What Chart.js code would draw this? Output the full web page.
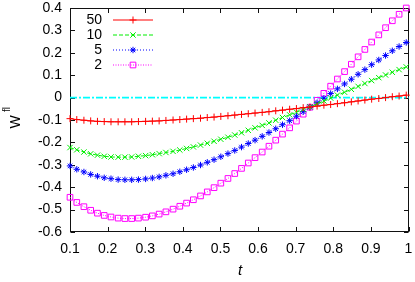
<!DOCTYPE html>
<html>
<head>
<meta charset="utf-8">
<script src="https://cdn.jsdelivr.net/npm/chart.js@4.4.1/dist/chart.umd.min.js"></script>
<style>
  html, body { margin: 0; padding: 0; background: #fff; }
  canvas { display: block; }
</style>
</head>
<body>
<canvas id="chart" width="415" height="282"></canvas>
<script>
// sample points along t
const tValues = [
  0.100, 0.118, 0.137, 0.155, 0.173, 0.191, 0.209, 0.228, 0.246, 0.264,
  0.282, 0.301, 0.319, 0.337, 0.355, 0.374, 0.392, 0.410, 0.428, 0.447,
  0.465, 0.483, 0.501, 0.520, 0.538, 0.556, 0.574, 0.592, 0.611, 0.629,
  0.647, 0.665, 0.684, 0.702, 0.720, 0.738, 0.757, 0.775, 0.793, 0.811,
  0.830, 0.848, 0.866, 0.884, 0.902, 0.921, 0.939, 0.957, 0.975, 0.994
];

// W^fl for each case
const w50 = [
  -0.094, -0.098, -0.101, -0.104, -0.106, -0.107, -0.108, -0.108, -0.108, -0.108,
  -0.107, -0.106, -0.105, -0.104, -0.102, -0.100, -0.098, -0.096, -0.094, -0.092,
  -0.089, -0.087, -0.084, -0.081, -0.078, -0.075, -0.072, -0.069, -0.066, -0.063,
  -0.059, -0.056, -0.052, -0.049, -0.045, -0.042, -0.038, -0.034, -0.031, -0.027,
  -0.023, -0.019, -0.015, -0.011, -0.007, -0.004, 0.000, 0.004, 0.007, 0.011
];
const w10 = [
  -0.223, -0.233, -0.243, -0.251, -0.257, -0.262, -0.265, -0.266, -0.266, -0.265,
  -0.262, -0.259, -0.255, -0.250, -0.245, -0.240, -0.234, -0.227, -0.220, -0.212,
  -0.204, -0.195, -0.186, -0.177, -0.167, -0.157, -0.146, -0.135, -0.124, -0.113,
  -0.101, -0.089, -0.077, -0.065, -0.053, -0.041, -0.028, -0.015, -0.002, 0.011,
  0.024, 0.037, 0.050, 0.063, 0.076, 0.089, 0.101, 0.113, 0.125, 0.137
];
const w5 = [
  -0.305, -0.320, -0.332, -0.343, -0.351, -0.358, -0.362, -0.366, -0.367, -0.367,
  -0.366, -0.363, -0.359, -0.354, -0.347, -0.340, -0.331, -0.322, -0.312, -0.301,
  -0.289, -0.277, -0.264, -0.250, -0.236, -0.221, -0.205, -0.190, -0.173, -0.156,
  -0.139, -0.121, -0.103, -0.083, -0.063, -0.043, -0.023, -0.003, 0.018, 0.039,
  0.061, 0.082, 0.104, 0.125, 0.147, 0.168, 0.188, 0.209, 0.228, 0.246
];
const w2 = [
  -0.445, -0.468, -0.487, -0.503, -0.516, -0.526, -0.533, -0.538, -0.540, -0.540,
  -0.538, -0.534, -0.528, -0.520, -0.510, -0.498, -0.485, -0.471, -0.456, -0.439,
  -0.421, -0.402, -0.382, -0.361, -0.339, -0.316, -0.292, -0.268, -0.243, -0.217,
  -0.190, -0.163, -0.135, -0.105, -0.074, -0.043, -0.012, 0.019, 0.051, 0.083,
  0.116, 0.149, 0.182, 0.215, 0.248, 0.280, 0.312, 0.343, 0.372, 0.400
];
// reference line at zero, drawn across the whole t range
const zeroT = [0.1, 1.0];
const zeroW = [0, 0];

const seriesNames = ["50", "10", "5", "2"];
const xTickLabels = ["0.1", "0.2", "0.3", "0.4", "0.5", "0.6", "0.7", "0.8", "0.9", "1"];
const yTickLabels = ["-0.6", "-0.5", "-0.4", "-0.3", "-0.2", "-0.1", "0", "0.1", "0.2", "0.3", "0.4"];

const FONT = "'Liberation Sans', Arial, Helvetica, sans-serif";

function pts(xs, ys) {
  return xs.map((x, i) => ({ x: x, y: ys[i] }));
}

const datasets = [
  { label: seriesNames[0], data: pts(tValues, w50), borderColor: "#ff0000",
    pointStyle: "cross", pointRadius: 3.5, borderDash: [] },
  { label: seriesNames[1], data: pts(tValues, w10), borderColor: "#00ee00",
    pointStyle: "crossRot", pointRadius: 3.8, borderDash: [4, 2] },
  { label: seriesNames[2], data: pts(tValues, w5), borderColor: "#0000ff",
    pointStyle: "star", pointRadius: 3.2, borderDash: [1, 2] },
  { label: seriesNames[3], data: pts(tValues, w2), borderColor: "#ff00ff",
    pointStyle: "rect", pointRadius: 4, borderDash: [1, 1.5] },
  { label: "", data: pts(zeroT, zeroW), borderColor: "#00ffff",
    pointRadius: 0, borderDash: [7, 2, 2, 2] }
];
datasets.forEach(d => {
  d.borderWidth = d.label === "" ? 1.8 : 1;
  d.pointBorderColor = d.borderColor;
  d.pointBackgroundColor = "rgba(0,0,0,0)";
  d.pointBorderWidth = 1;
  d.fill = false;
  d.tension = 0;
  d.clip = false;
});

// border box + inward ticks on all four sides, like the original plot
const framePlugin = {
  id: "frame",
  beforeDatasetsDraw(chart) {
    const ctx = chart.ctx;
    const a = chart.chartArea;
    const xs = chart.scales.x, ys = chart.scales.y;
    const L = Math.round(a.left) + 0.5, R = Math.round(a.right) - 0.5;
    const T = Math.round(a.top) + 0.5, B = Math.round(a.bottom) - 0.5;
    const len = 4.5;
    ctx.save();
    ctx.strokeStyle = "#111";
    ctx.lineWidth = 1;
    ctx.strokeRect(L, T, R - L, B - T);
    ctx.beginPath();
    xs.ticks.forEach(t => {
      const px = Math.round(xs.getPixelForValue(t.value)) + 0.5;
      ctx.moveTo(px, B); ctx.lineTo(px, B - len);
      ctx.moveTo(px, T); ctx.lineTo(px, T + len);
    });
    ys.ticks.forEach(t => {
      const py = Math.round(ys.getPixelForValue(t.value)) + 0.5;
      ctx.moveTo(L, py); ctx.lineTo(L + len, py);
      ctx.moveTo(R, py); ctx.lineTo(R - len, py);
    });
    ctx.stroke();
    ctx.restore();
  }
};

// axis titles (W with superscript fl, italic t) and the key in the upper left
const labelPlugin = {
  id: "labels",
  afterDraw(chart) {
    const ctx = chart.ctx;
    ctx.save();
    ctx.fillStyle = "#000";

    ctx.font = "italic 15px " + FONT;
    ctx.textAlign = "center";
    ctx.textBaseline = "alphabetic";
    ctx.fillText("t", 240, 275);

    ctx.save();
    ctx.translate(19.5, 128.5);
    ctx.rotate(-Math.PI / 2);
    ctx.textAlign = "left";
    ctx.font = "14px " + FONT;
    ctx.fillText("W", 0, 0);
    ctx.font = "10px " + FONT;
    ctx.fillText("fl", 16.5, -9.5);
    ctx.restore();

    // key
    ctx.font = "14px " + FONT;
    ctx.textAlign = "right";
    ctx.textBaseline = "middle";
    for (let i = 0; i < seriesNames.length; i++) {
      const ds = chart.data.datasets[i];
      const y = 19.5 + i * 15;
      ctx.fillStyle = "#000";
      ctx.fillText(seriesNames[i], 102, y + 0.5);
      ctx.strokeStyle = ds.borderColor;
      ctx.lineWidth = 1;
      ctx.setLineDash(ds.borderDash);
      ctx.beginPath();
      ctx.moveTo(113, y + 0.5);
      ctx.lineTo(153, y + 0.5);
      ctx.stroke();
      ctx.setLineDash([]);
      ctx.fillStyle = "rgba(0,0,0,0)";
      Chart.helpers.drawPoint(ctx, {
        pointStyle: ds.pointStyle, radius: ds.pointRadius, rotation: 0, borderWidth: 1
      }, 133, y + 0.5);
    }
    ctx.restore();
  }
};

new Chart(document.getElementById("chart"), {
  type: "line",
  data: { datasets: datasets },
  options: {
    responsive: false,
    animation: false,
    devicePixelRatio: 1,
    layout: { padding: { top: 8, right: 6.5, left: 0, bottom: 0 } },
    plugins: { legend: { display: false }, tooltip: { enabled: false } },
    scales: {
      x: {
        type: "linear",
        min: 0.1, max: 1,
        afterFit: s => { s.height = 50; s.paddingLeft = 0; s.paddingRight = 0; },
        grid: { display: false, drawTicks: false },
        border: { display: false },
        ticks: {
          stepSize: 0.1,
          padding: 9,
          color: "#000",
          font: { family: FONT, size: 14 },
          maxRotation: 0,
          autoSkip: false,
          callback: (v, i) => xTickLabels[i]
        }
      },
      y: {
        type: "linear",
        min: -0.6, max: 0.4,
        afterFit: s => { s.width = 70; s.paddingTop = 0; s.paddingBottom = 0; },
        grid: { display: false, drawTicks: false },
        border: { display: false },
        ticks: {
          stepSize: 0.1,
          padding: 8,
          color: "#000",
          font: { family: FONT, size: 14, lineHeight: 1.1 },
          autoSkip: false,
          callback: (v, i) => yTickLabels[i]
        }
      }
    }
  },
  plugins: [framePlugin, labelPlugin]
});
</script>
</body>
</html>
